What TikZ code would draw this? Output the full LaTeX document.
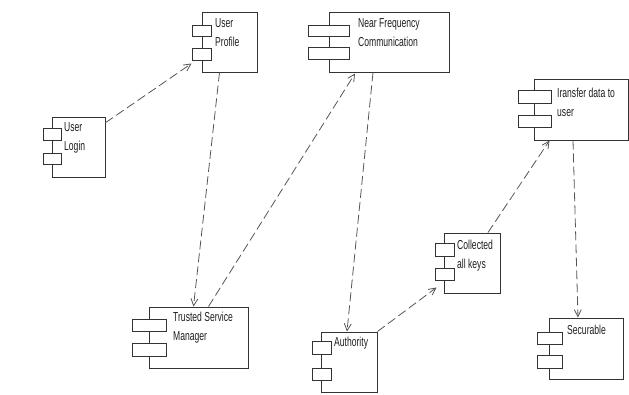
\documentclass[tikz,border=0pt]{standalone}
\usepackage{fontspec}
\setmainfont[FakeStretch=0.66]{Liberation Sans}
\usetikzlibrary{arrows.meta}

\definecolor{boxline}{HTML}{333333}
\definecolor{depline}{HTML}{555555}

\tikzset{
  comp/.style={draw=boxline, fill=white, line width=1pt, inner sep=0pt},
  tab/.style={draw=boxline, fill=white, line width=1pt, inner sep=0pt},
  compname/.style={anchor=north west, inner sep=0pt, align=left, text=black!88,
    font=\fontsize{13}{19}\selectfont},
  dep/.style={draw=depline, line width=0.8pt, dash pattern=on 9pt off 4pt,
    -{Straight Barb[length=7pt,width=7pt]}}
}

\begin{document}
\begin{tikzpicture}[x=1pt,y=-1pt]
            \useasboundingbox (0,0) rectangle (629,394);

            % User login
            \node[comp, minimum width=53pt, minimum height=60pt] (login) at (78.5,147) {};
            \node[tab, minimum width=18pt, minimum height=12pt] (login1) at (52,134) {};
            \node[tab, minimum width=18pt, minimum height=11pt] (login2) at (52,158.5) {};
            \node[compname] (logintext) at (64,122) {User\\Login};

            % User profile
            \node[comp, minimum width=55pt, minimum height=60pt] (profile) at (229.5,42) {};
            \node[tab, minimum width=19pt, minimum height=11pt] (profile1) at (201.5,30.5) {};
            \node[tab, minimum width=19pt, minimum height=12pt] (profile2) at (201.5,54) {};
            \node[compname] (profiletext) at (215,18) {User\\Profile};
            \draw[dep] (login.42) -- ([yshift=-3pt]profile2.south west);

            % Near frequency communication
            \node[comp, minimum width=120pt, minimum height=60pt] (nfc) at (389,42) {};
            \node[tab, minimum width=41pt, minimum height=11pt] (nfc1) at (328.5,31) {};
            \node[tab, minimum width=41pt, minimum height=12pt] (nfc2) at (328.5,53.5) {};
            \node[compname] (nfctext) at (358,18) {Near Frequency\\Communication};

            % Trusted service manager
            \node[comp, minimum width=99pt, minimum height=61pt] (tsm) at (198.5,337.5) {};
            \node[tab, minimum width=34pt, minimum height=12pt] (tsm1) at (149,325) {};
            \node[tab, minimum width=34pt, minimum height=13pt] (tsm2) at (149,349.5) {};
            \node[compname] (tsmtext) at (173,312) {Trusted Service\\Manager};
            \draw[dep] ([xshift=-10pt]profile.south) -- ([xshift=-5pt]tsm.north);
            \draw[dep] ([xshift=10pt]tsm.north) -- ([xshift=-34pt,yshift=-1pt]nfc.south);

            % Authority
            \node[comp, minimum width=56pt, minimum height=60pt] (auth) at (349,362) {};
            \node[tab, minimum width=19pt, minimum height=13pt] (auth1) at (321.5,348) {};
            \node[tab, minimum width=19pt, minimum height=12pt] (auth2) at (321.5,374) {};
            \node[compname] (authtext) at (334,337) {Authority};
            \draw[dep] ([xshift=-16pt]nfc.south) -- ([xshift=-2pt]auth.north);

            % Collected all keys
            \node[comp, minimum width=56pt, minimum height=60pt] (keys) at (472,263) {};
            \node[tab, minimum width=19pt, minimum height=13pt] (keys1) at (444.5,250) {};
            \node[tab, minimum width=19pt, minimum height=12pt] (keys2) at (444.5,274) {};
            \node[compname] (keystext) at (457,240) {Collected\\all keys};
            \draw[dep] (auth.north east) -- ([xshift=2pt,yshift=-7pt]keys2.south west);

            % Transfer data to user
            \node[comp, minimum width=94pt, minimum height=61pt] (xfer) at (581,109.5) {};
            \node[tab, minimum width=33pt, minimum height=13pt] (xfer1) at (534.5,96.5) {};
            \node[tab, minimum width=33pt, minimum height=12pt] (xfer2) at (534.5,121.5) {};
            \node[compname] (xfertext) at (557,88) {Iransfer data to\\user};
            \draw[dep] ([xshift=16pt]keys.north) -- ([xshift=16pt]xfer.south west);

            % Securable
            \node[comp, minimum width=74pt, minimum height=61pt] (secur) at (586,348.5) {};
            \node[tab, minimum width=25pt, minimum height=12pt] (secur1) at (549.5,338) {};
            \node[tab, minimum width=25pt, minimum height=13pt] (secur2) at (549.5,361.5) {};
            \node[compname] (securtext) at (567,325) {Securable};
            \draw[dep] ([xshift=-8pt]xfer.south) -- ([xshift=-8pt]secur.north);
        \end{tikzpicture}
\end{document}
